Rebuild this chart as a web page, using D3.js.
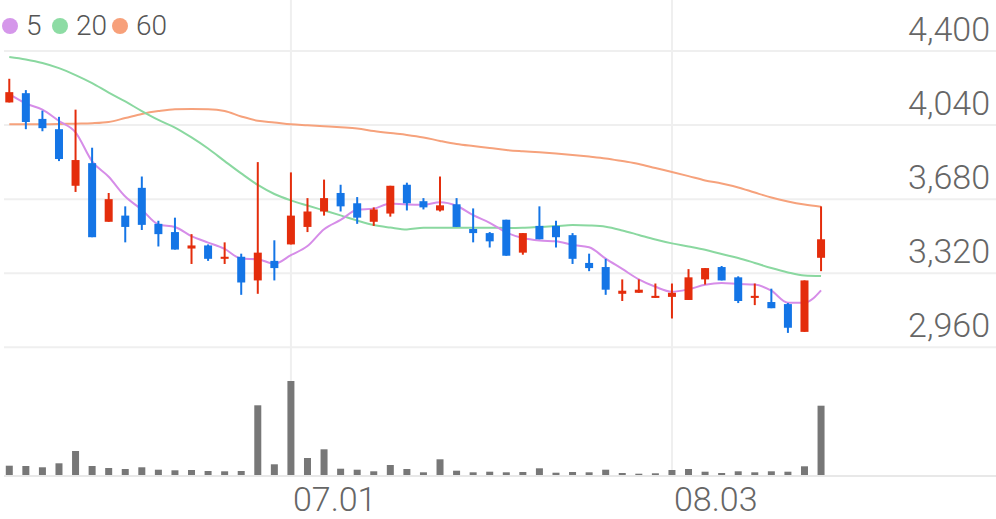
<!DOCTYPE html>
<html><head><meta charset="utf-8">
<script src="https://cdn.jsdelivr.net/npm/d3@7"></script>
<style>body{margin:0;background:#fff}svg{display:block}</style>
</head><body><svg id="c" width="996" height="519"></svg>
<script>
const dates=["06.08","06.09","06.10","06.13","06.14","06.15","06.16","06.17","06.20","06.21","06.22","06.23","06.24","06.27","06.28","06.29","06.30",
"07.01","07.04","07.05","07.06","07.07","07.08","07.11","07.12","07.13","07.14","07.15","07.18","07.19","07.20","07.21","07.22","07.25","07.26","07.27","07.28","07.29",
"08.01","08.02","08.03","08.04","08.05","08.08","08.09","08.10","08.11","08.12","08.16","08.17"];
const open=[4150,4195,4070,4020,3745,3855,3570,3600,3735,3560,3520,3440,3455,3390,3400,3285,3380,3460,3545,3620,3710,3660,3570,3610,3750,3670,3625,3655,3535,3515,3580,3420,3550,3550,3505,3370,3350,3220,3225,3200,3205,3190,3290,3350,3300,3200,3180,3170,3035,3395];
const high=[4265,4210,4110,4080,4115,3930,3710,3645,3790,3575,3590,3510,3460,3470,3415,3860,3480,3810,3685,3775,3750,3690,3640,3745,3760,3685,3790,3685,3635,3520,3580,3515,3645,3575,3515,3415,3390,3290,3290,3270,3270,3340,3345,3355,3305,3270,3245,3175,3285,3645];
const low=[4150,4020,4010,3865,3715,3495,3570,3470,3530,3450,3435,3365,3380,3365,3215,3220,3285,3460,3520,3600,3620,3560,3550,3595,3625,3630,3620,3545,3470,3445,3405,3410,3485,3445,3365,3330,3215,3185,3225,3200,3100,3190,3265,3285,3175,3165,3150,3030,3035,3330];
const close=[4200,4055,4025,3875,3870,3495,3680,3545,3555,3510,3435,3455,3390,3400,3275,3420,3345,3600,3620,3685,3645,3590,3630,3745,3660,3640,3650,3545,3515,3475,3405,3515,3485,3495,3390,3345,3240,3235,3240,3210,3225,3300,3345,3285,3185,3210,3150,3055,3285,3485];
const ma5=[4190,4145,4115,4060,4005,3864,3789,3693,3629,3557,3545,3500,3469,3438,3391,3388,3366,3408,3452,3534,3579,3628,3634,3659,3654,3653,3665,3648,3602,3565,3518,3491,3479,3475,3458,3446,3391,3341,3290,3254,3230,3242,3264,3273,3268,3265,3235,3177,3177,3237];
const ma20=[4371,4359,4342,4317,4283,4244,4198,4155,4108,4065,4028,3980,3926,3865,3805,3749,3705,3674,3649,3625,3601,3576,3554,3542,3533,3541,3541,3541,3541,3541,3540,3541,3545,3549,3554,3552,3546,3528,3506,3484,3465,3450,3434,3413,3394,3370,3345,3324,3309,3306];
const ma60=[4044,4044,4044,4045,4047,4049,4055,4074,4094,4108,4117,4118,4117,4108,4082,4061,4053,4044,4039,4034,4029,4023,4011,4001,3992,3980,3963,3948,3938,3929,3919,3913,3908,3902,3895,3887,3878,3865,3851,3831,3812,3792,3771,3756,3737,3712,3688,3669,3654,3643];
const volume=[186,180,154,234,480,180,140,120,154,106,94,100,80,74,80,1394,214,1880,340,514,126,106,74,200,120,54,314,86,54,66,54,60,134,46,60,54,106,40,26,34,100,120,66,40,74,54,74,66,174,1386];
const priceTicks=[4400,4040,3680,3320,2960];
const dateTicks=["07.01","08.03"];
const legendItems=[{name:"5",color:"#d597ea"},{name:"20",color:"#8ddca4"},{name:"60",color:"#f7a07a"}];

const svg=d3.select('#c');
const x=d3.scaleBand().domain(d3.range(60)).range([1,995]);
const cx=i=>x(i)+x.bandwidth()/2;
const y=d3.scaleLinear().domain([2960,4400]).range([347.3,51]);
const yv=d3.scaleLinear().domain([0,2000]).range([475,375]);
const font="Roboto, 'Noto Sans', sans-serif";

// horizontal grid
svg.append('g').selectAll('line').data(priceTicks).join('line')
  .attr('x1',4).attr('x2',996).attr('y1',d=>y(d)).attr('y2',d=>y(d))
  .attr('stroke','#efefef').attr('stroke-width',2);
// vertical grid
const tickIdx=dateTicks.map(d=>dates.indexOf(d));
svg.append('g').selectAll('line').data(tickIdx).join('line')
  .attr('x1',d=>cx(d)).attr('x2',d=>cx(d)).attr('y1',0).attr('y2',475)
  .attr('stroke','#efefef').attr('stroke-width',2);
// volume baseline
svg.append('line').attr('x1',4).attr('x2',996).attr('y1',yv(0)+1).attr('y2',yv(0)+1)
  .attr('stroke','#e8e8e8').attr('stroke-width',2);

// y labels
svg.append('g').selectAll('text').data(priceTicks).join('text')
  .attr('x',990).attr('y',d=>y(d)-10).attr('text-anchor','end')
  .attr('font-family',font).attr('font-weight',300).attr('font-size',34).attr('fill','#666')
  .text(d3.format(','));
// x labels
svg.append('g').selectAll('text').data(tickIdx).join('text')
  .attr('x',d=>cx(d)+2).attr('y',511)
  .attr('font-family',font).attr('font-weight',300).attr('font-size',34).attr('fill','#666')
  .text(d=>dates[d]);

// volume bars
svg.append('g').selectAll('rect').data(volume).join('rect')
  .attr('x',(d,i)=>cx(i)-3.5).attr('width',7)
  .attr('y',d=>yv(d)).attr('height',d=>yv(0)-yv(d)).attr('fill','#777');

// MA lines
const line=d3.line().x((d,i)=>cx(i)).y(d=>y(d)).curve(d3.curveMonotoneX);
[[ma60,'#f6a27c'],[ma20,'#8ad8a0'],[ma5,'#d68de8']].forEach(([s,c])=>{
  svg.append('path').datum(s).attr('d',line).attr('fill','none').attr('stroke',c).attr('stroke-width',2);
});

// candles
const red='#e42d0c', blue='#1475e6';
const cg=svg.append('g').selectAll('g').data(dates).join('g');
cg.append('line').attr('x1',(d,i)=>cx(i)).attr('x2',(d,i)=>cx(i))
  .attr('y1',(d,i)=>y(high[i])).attr('y2',(d,i)=>y(low[i]))
  .attr('stroke',(d,i)=>close[i]>=open[i]?red:blue).attr('stroke-width',2);
cg.append('rect').attr('x',(d,i)=>cx(i)-4).attr('width',8)
  .attr('y',(d,i)=>y(Math.max(open[i],close[i])))
  .attr('height',(d,i)=>Math.max(2,Math.abs(y(open[i])-y(close[i]))))
  .attr('fill',(d,i)=>close[i]>=open[i]?red:blue);

// legend
const lg=svg.append('g');
let lx=10;
const lxs=[10,60,120];
legendItems.forEach((d,k)=>{
  lg.append('circle').attr('cx',lxs[k]).attr('cy',26).attr('r',8).attr('fill',d.color);
  lg.append('text').attr('x',lxs[k]+16).attr('y',35).attr('font-family',font).attr('font-weight',300)
    .attr('font-size',28).attr('fill','#555').text(d.name);
});
</script></body></html>
